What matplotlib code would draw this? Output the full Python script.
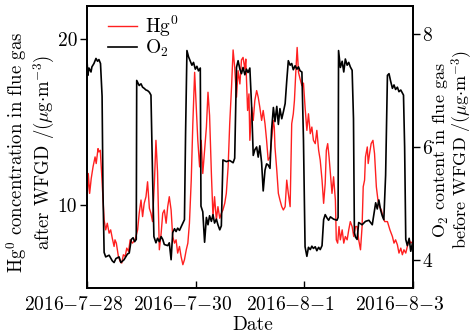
import datetime
import matplotlib
matplotlib.use('Agg')
import matplotlib.pyplot as plt
import matplotlib.dates as mdates
import numpy as np

# hours after 2016-07-28 00:00
o2_hours = [0.0, 0.4, 0.9, 1.8, 2.2, 3.1, 4.0, 4.7, 5.3, 6.0,
            6.7, 7.1, 7.6, 8.3, 9.8, 11.2, 12.0, 12.8, 14.2, 15.0,
            16.4, 17.9, 18.7, 19.6, 20.4, 21.1, 21.8, 22.0, 23.1, 23.9,
            24.6, 25.3, 26.1, 26.8, 27.6, 28.3, 29.0, 29.6, 30.5, 31.2,
            32.0, 32.8, 33.5, 34.2, 35.7, 36.4, 37.2, 37.9, 38.7, 39.4,
            40.1, 40.9, 42.4, 43.1, 43.6, 44.2, 44.9, 45.6, 46.4, 47.1,
            47.9, 48.6, 49.3, 50.1, 50.4, 51.2, 52.0, 52.8, 53.5, 54.2,
            55.0, 55.7, 56.4, 57.2, 57.9, 58.7, 59.4, 60.1, 61.6, 63.1,
            64.6, 65.3, 66.1, 66.8, 67.6, 68.3, 69.0, 69.8, 70.5, 71.2,
            72.0, 72.8, 73.5, 74.2, 75.0, 75.7, 76.4, 77.2, 77.9, 78.7,
            79.4, 80.1, 80.9, 81.6, 82.4, 83.1, 83.9, 84.6, 85.3, 86.1,
            86.8, 87.6, 88.3, 89.0, 89.8, 90.5, 91.2, 92.0, 92.8, 93.5,
            94.2, 95.0, 95.7, 96.4, 97.2, 97.9, 98.7, 99.4, 100.1, 100.9,
            101.6, 102.4, 103.1, 103.9, 104.6, 105.3, 106.1, 106.8, 107.6, 109.0,
            110.5, 111.0, 111.2, 112.0, 112.8, 113.5, 114.2, 115.0, 115.7, 116.4,
            117.2, 117.8, 118.2, 118.7, 119.4, 120.1, 121.6, 123.1, 124.6, 126.1,
            126.8, 127.6, 128.3, 129.0, 129.8, 130.5, 131.2, 132.0, 132.8, 133.5,
            134.2, 135.0, 135.7, 136.4, 137.2, 137.9, 138.7, 139.9, 140.4, 140.9,
            141.6, 142.4, 143.1, 143.9]
o2 = [7.57, 7.27, 7.40, 7.33, 7.42, 7.48, 7.57, 7.52, 7.55, 7.48,
      6.90, 5.20, 4.13, 4.05, 4.08, 3.98, 3.95, 4.02, 4.05, 3.95,
      4.00, 4.10, 4.12, 4.36, 4.39, 4.32, 4.36, 7.18, 7.09, 7.12,
      7.06, 7.04, 7.01, 7.00, 6.97, 6.92, 5.50, 4.41, 4.30, 4.38,
      4.32, 4.41, 4.36, 4.27, 4.25, 4.30, 4.00, 4.48, 4.55, 4.50,
      4.56, 4.52, 4.65, 4.71, 6.25, 7.71, 7.60, 7.53, 7.45, 7.50,
      7.38, 7.43, 7.35, 7.40, 4.95, 4.85, 4.31, 4.75, 4.62, 4.78,
      4.68, 4.80, 4.65, 4.72, 4.62, 4.53, 4.60, 5.77, 5.74, 5.76,
      5.72, 5.80, 7.41, 7.53, 7.38, 7.30, 7.41, 7.28, 7.38, 7.32,
      7.40, 6.70, 5.85, 5.95, 6.00, 5.82, 6.02, 5.72, 5.22, 5.59,
      5.70, 5.68, 5.62, 6.30, 6.70, 6.45, 6.72, 6.40, 6.68, 6.50,
      6.62, 6.77, 7.17, 7.53, 7.45, 7.48, 7.37, 7.44, 7.38, 7.42,
      7.35, 7.33, 6.12, 4.23, 4.06, 4.22, 4.18, 4.24, 4.20, 4.23,
      4.16, 4.22, 4.18, 4.25, 4.71, 4.80, 4.74, 4.70, 4.76, 4.72,
      4.70, 4.75, 7.71, 7.41, 7.52, 7.33, 7.56, 7.45, 7.50, 7.42,
      7.36, 6.50, 4.48, 4.40, 4.36, 4.66, 4.62, 4.68, 4.70, 4.62,
      4.80, 5.01, 4.90, 5.06, 4.88, 4.78, 4.71, 5.50, 7.27, 7.30,
      7.17, 7.04, 7.10, 7.02, 7.06, 6.98, 7.01, 6.92, 6.00, 4.36,
      4.25, 4.38, 4.15, 4.30]

hg_hours = [0.0, 0.6, 1.2, 1.9, 2.7, 3.6, 4.1, 4.9, 5.3, 5.9,
            6.5, 7.6, 8.3, 9.0, 9.8, 10.5, 11.2, 12.0, 12.4, 13.0,
            13.9, 14.7, 15.4, 16.1, 16.9, 17.6, 18.4, 19.1, 20.1, 21.3,
            22.4, 23.1, 23.9, 24.6, 25.3, 26.1, 26.8, 27.6, 28.3, 29.0,
            29.8, 30.5, 31.2, 32.0, 32.8, 33.5, 34.2, 35.0, 35.7, 36.4,
            37.2, 37.9, 38.7, 39.4, 40.1, 40.9, 41.6, 42.4, 43.1, 43.9,
            44.6, 45.3, 46.1, 46.8, 47.6, 48.3, 49.0, 49.8, 50.5, 51.2,
            52.0, 52.8, 53.5, 54.2, 55.0, 55.7, 56.4, 57.2, 57.9, 58.7,
            59.4, 60.1, 60.9, 61.6, 62.4, 63.1, 63.9, 64.6, 65.3, 66.1,
            66.8, 67.6, 68.3, 69.0, 69.8, 70.2, 71.0, 71.6, 72.0, 72.8,
            73.5, 74.2, 75.0, 75.7, 76.4, 77.2, 77.9, 78.7, 79.4, 80.1,
            80.9, 81.6, 82.4, 82.8, 83.1, 83.9, 84.6, 85.3, 86.1, 86.8,
            87.6, 88.3, 89.0, 89.8, 90.5, 91.2, 91.7, 92.3, 92.9, 93.5,
            94.2, 95.0, 95.7, 96.4, 97.2, 97.9, 98.7, 99.4, 100.1, 100.9,
            101.6, 102.4, 103.1, 103.9, 104.6, 105.3, 105.8, 106.4, 107.0, 107.6,
            108.3, 109.0, 109.8, 110.2, 110.8, 111.4, 112.0, 112.8, 113.5, 114.2,
            115.0, 115.7, 116.4, 117.2, 117.9, 118.7, 119.4, 120.1, 120.9, 121.6,
            122.1, 122.7, 123.1, 123.9, 124.3, 124.9, 125.6, 126.4, 127.1, 127.9,
            128.6, 129.3, 130.1, 130.8, 131.6, 132.8, 133.9, 135.0, 135.7, 136.4,
            137.2, 137.9, 138.7, 139.4, 140.1, 140.9, 141.6, 142.4, 143.1, 144.0]
hg = [10.1, 11.9, 10.7, 11.6, 12.3, 12.9, 12.5, 13.4, 13.2, 13.3,
      11.9, 9.1, 8.5, 8.9, 8.3, 8.5, 8.0, 7.5, 7.9, 7.7,
      6.9, 6.6, 6.5, 7.0, 6.9, 7.4, 7.2, 7.9, 7.7, 7.9,
      8.5, 9.5, 10.3, 9.3, 10.1, 10.5, 11.4, 9.8, 9.5, 9.0,
      11.3, 13.9, 12.0, 7.3, 8.3, 9.5, 9.7, 8.9, 9.9, 10.5,
      9.7, 8.1, 7.7, 7.9, 7.1, 7.5, 6.9, 6.4, 6.7, 7.3,
      7.7, 8.9, 11.5, 14.9, 18.0, 15.9, 13.9, 12.3, 13.9, 11.9,
      13.3, 14.7, 16.8, 15.4, 11.9, 9.3, 10.5, 9.1, 9.9, 9.2,
      9.5, 9.7, 10.1, 10.7, 12.3, 14.9, 17.1, 19.35, 18.3, 16.5,
      18.1, 17.3, 18.75, 18.9, 18.2, 18.8, 15.7, 16.7, 13.9, 15.9,
      15.1, 16.3, 16.9, 16.5, 15.9, 15.1, 15.7, 14.9, 13.9, 12.7,
      12.9, 13.9, 15.1, 14.7, 13.5, 12.1, 10.7, 10.3, 9.9, 9.7,
      9.9, 11.5, 10.7, 9.9, 14.9, 15.5, 16.3, 18.0, 19.5, 18.0,
      17.6, 17.2, 17.35, 15.9, 14.5, 15.5, 14.3, 14.7, 13.9, 13.7,
      14.5, 13.3, 12.7, 11.5, 10.1, 11.3, 13.3, 13.7, 12.9, 11.9,
      10.7, 11.7, 10.3, 7.9, 7.7, 8.7, 7.9, 8.5, 7.7, 8.1,
      7.9, 8.5, 9.0, 8.7, 8.1, 8.7, 8.7, 7.9, 7.3, 8.7,
      11.1, 11.5, 12.9, 13.5, 12.5, 13.1, 13.7, 13.9, 13.1, 11.1,
      10.3, 9.9, 9.7, 9.3, 9.0, 9.0, 8.5, 8.1, 7.7, 7.9,
      7.6, 7.1, 7.4, 7.0, 7.3, 7.1, 7.5, 7.9, 7.7, 7.8]

tick_dates = ['2016-07-28', '2016-07-30', '2016-08-01', '2016-08-03']
tick_labels = [r'$\mathrm{2016{-}7{-}28}$', r'$\mathrm{2016{-}7{-}30}$',
               r'$\mathrm{2016{-}8{-}1}$', r'$\mathrm{2016{-}8{-}3}$']

start = mdates.date2num(datetime.datetime(2016, 7, 28))
t_o2 = start + np.array(o2_hours) / 24.0
t_hg = start + np.array(hg_hours) / 24.0
t_ticks = [mdates.date2num(datetime.datetime.strptime(d, '%Y-%m-%d')) for d in tick_dates]

plt.rcParams['font.family'] = ['cmr10', 'DejaVu Serif']
plt.rcParams['mathtext.fontset'] = 'cm'
plt.rcParams['axes.unicode_minus'] = False
plt.rcParams['font.size'] = 14

fig = plt.figure(figsize=(4.75, 3.34), dpi=100)
ax = fig.add_axes([0.183, 0.138, 0.686, 0.844])
ax2 = ax.twinx()

l1, = ax.plot(t_hg, hg, color='#ff2020', lw=1.0, label='Hg$^0$')
l2, = ax2.plot(t_o2, o2, color='black', lw=1.2, label='O$_2$')

ax.set_xlim(start, start + 6)
ax.set_ylim(5, 22)
ax2.set_ylim(3.5, 8.5)
ax.set_yticks([10, 20])
ax2.set_yticks([4, 6, 8])
ax.set_xticks(t_ticks)
ax.set_xticklabels([])
# date labels sit a little left of their ticks in the original
for t, lab in zip(t_ticks, tick_labels):
  ax.annotate(lab, xy=(t, 0), xycoords=('data', 'axes fraction'), xytext=(-9.5, -6),
              textcoords='offset points', ha='center', va='top', annotation_clip=False)

ax.tick_params(axis='x', direction='in', length=5, width=1)
ax.tick_params(axis='y', direction='out', length=5, width=1, pad=2)
ax2.tick_params(axis='y', direction='out', length=5, width=1, pad=2)
for a in (ax, ax2):
  for s in a.spines.values():
    s.set_linewidth(1.3)

ax.set_xlabel('Date')
ax.xaxis.set_label_coords(0.51, -0.1)
ax.set_ylabel('Hg$^0$ concentration in flue gas\nafter WFGD /($\\mu$g$\\cdot$m$^{-3}$)',
              fontsize=13.5, linespacing=1.15)
ax.yaxis.set_label_coords(-0.092, 0.48)
ax2.set_ylabel('O$_2$ content in flue gas\nbefore WFGD /($\\mu$g$\\cdot$m$^{-3}$)',
               fontsize=13, linespacing=0.9)
ax2.yaxis.set_label_coords(1.057, 0.49)

ax.legend(handles=[l1, l2], loc='upper left', bbox_to_anchor=(0.028, 1.015), frameon=False,
          handlelength=1.5, labelspacing=-0.05, borderaxespad=0.2, handletextpad=0.4)

plt.savefig('out.png', dpi=100)
plt.close()
